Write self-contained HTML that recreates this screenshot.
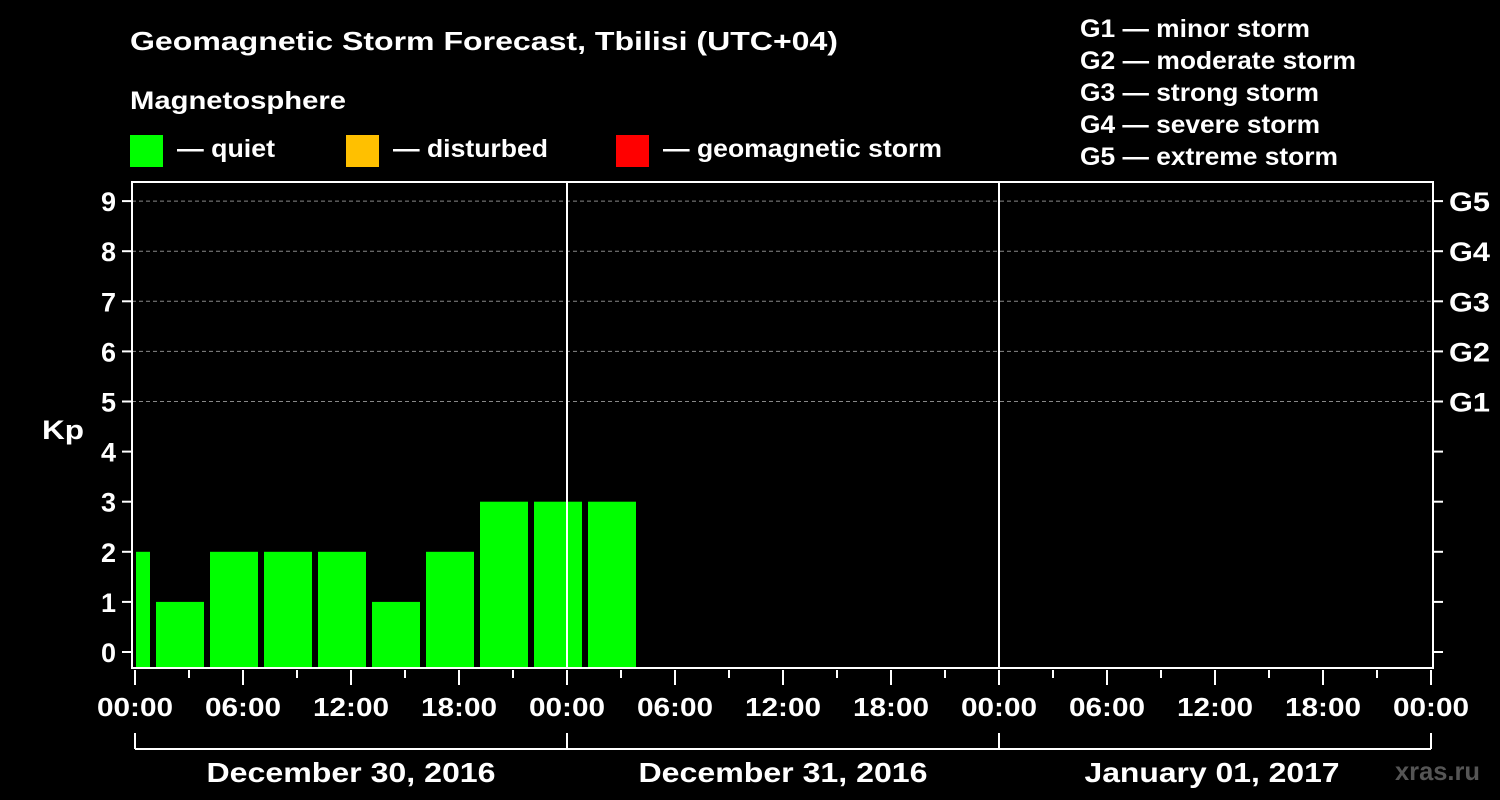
<!DOCTYPE html>
<html><head><meta charset="utf-8"><style>
body{margin:0;background:#000;width:1500px;height:800px;overflow:hidden}
svg{display:block;font-family:"Liberation Sans",Arial,sans-serif;font-weight:bold;fill:#fff}
</style></head><body>
<svg id="c" width="1500" height="800">
<text x="130" y="50" font-size="26" textLength="708" lengthAdjust="spacingAndGlyphs">Geomagnetic Storm Forecast, Tbilisi (UTC+04)</text>
<text x="130" y="109" font-size="25" textLength="216" lengthAdjust="spacingAndGlyphs">Magnetosphere</text>
<rect x="130" y="135" width="33" height="32" fill="#00ff00"/>
<text x="177" y="157" font-size="25" textLength="98" lengthAdjust="spacingAndGlyphs">— quiet</text>
<rect x="346" y="135" width="33" height="32" fill="#ffc000"/>
<text x="393" y="157" font-size="25" textLength="155" lengthAdjust="spacingAndGlyphs">— disturbed</text>
<rect x="616" y="135" width="33" height="32" fill="#ff0000"/>
<text x="663" y="157" font-size="25" textLength="279" lengthAdjust="spacingAndGlyphs">— geomagnetic storm</text>
<g font-size="25">
<text x="1080" y="37" textLength="230" lengthAdjust="spacingAndGlyphs">G1 — minor storm</text>
<text x="1080" y="69" textLength="276" lengthAdjust="spacingAndGlyphs">G2 — moderate storm</text>
<text x="1080" y="101" textLength="239" lengthAdjust="spacingAndGlyphs">G3 — strong storm</text>
<text x="1080" y="133" textLength="240" lengthAdjust="spacingAndGlyphs">G4 — severe storm</text>
<text x="1080" y="165" textLength="258" lengthAdjust="spacingAndGlyphs">G5 — extreme storm</text>
</g>
<text x="42" y="439" font-size="27" textLength="42" lengthAdjust="spacingAndGlyphs">Kp</text>
<text x="1395" y="780" font-size="26" textLength="85" lengthAdjust="spacingAndGlyphs" style="fill:#555">xras.ru</text>
<g id="plot"></g>
</svg>
<script>
const kpValues=[2,1,2,2,2,1,2,3,3,3];
const barStartHours=[-0.5,2.5,5.5,8.5,11.5,14.5,17.5,20.5,23.5,26.5];
const yTicks=[0,1,2,3,4,5,6,7,8,9];
const gLabels=["G1","G2","G3","G4","G5"];
const hourLabels=["00:00","06:00","12:00","18:00"];
const dayLabels=["December 30, 2016","December 31, 2016","January 01, 2017"];
const dayLabelWidths=[289,289,255];
const NS="http://www.w3.org/2000/svg";
const g=document.getElementById('plot');
const X0=135,PX_H=18,L=132,R=1433,T=182,B=668;
const xs=h=>X0+h*PX_H;
const ys=v=>652-v*50.1;
function mk(t,a){const e=document.createElementNS(NS,t);for(const k in a)e.setAttribute(k,a[k]);g.appendChild(e);return e;}
for(let v=5;v<=9;v++){
 const e=mk('line',{x1:L,x2:R,y1:ys(v),y2:ys(v),stroke:'#888','stroke-dasharray':'4,3','stroke-width':1});
 
 
}
kpValues.forEach((v,i)=>{
 const c=barStartHours[i];
 let x1=xs(c-4/3),x2=xs(c+4/3);
 x1=Math.max(x1,L+4);
 const e=mk('rect',{x:x1,y:ys(v),width:x2-x1,height:B-ys(v),fill:v>=5?'#ff0000':(v>=4?'#ffc000':'#00ff00')});
 
 
});
[1,2].forEach(d=>{
 const e=mk('line',{x1:xs(24*d),x2:xs(24*d),y1:T,y2:B,stroke:'#fff','stroke-width':2});
 
 
});
const fr=mk('rect',{x:L,y:T,width:R-L,height:B-T,fill:'none',stroke:'#fff','stroke-width':2});


yTicks.forEach(v=>{
 const y=ys(v);
 mk('line',{x1:L-10,x2:L,y1:y,y2:y,stroke:'#fff','stroke-width':2});
 mk('line',{x1:R,x2:R+10,y1:y,y2:y,stroke:'#fff','stroke-width':2});
 const t=mk('text',{x:116,y:y+10,'font-size':27,'text-anchor':'end'});t.textContent=v;
 
 
});
gLabels.forEach((s,i)=>{
 const t=mk('text',{x:1449,y:ys(5+i)+10,'font-size':27,textLength:41,lengthAdjust:'spacingAndGlyphs'});t.textContent=s;
 
 
});
for(let h=0;h<=72;h+=3){
 const x=xs(h),maj=h%6===0;
 mk('line',{x1:x,x2:x,y1:B+2,y2:B+(maj?17:10),stroke:'#fff','stroke-width':2});
 if(maj){
  const t=mk('text',{x:x-38,y:716,'font-size':26,textLength:76,lengthAdjust:'spacingAndGlyphs'});
  t.textContent=hourLabels[(h/6)%4];
  
  
 }
}
mk('line',{x1:xs(0),x2:xs(72),y1:749,y2:749,stroke:'#fff','stroke-width':2});
for(let d=0;d<=3;d++) mk('line',{x1:xs(24*d),x2:xs(24*d),y1:733,y2:749,stroke:'#fff','stroke-width':2});
dayLabels.forEach((s,i)=>{
 const w=dayLabelWidths[i];
 const t=mk('text',{x:xs(24*i+12)-w/2+(i===2?-3:0),y:782,'font-size':28,textLength:w,lengthAdjust:'spacingAndGlyphs'});t.textContent=s;
 
 
});
</script>
</body></html>
